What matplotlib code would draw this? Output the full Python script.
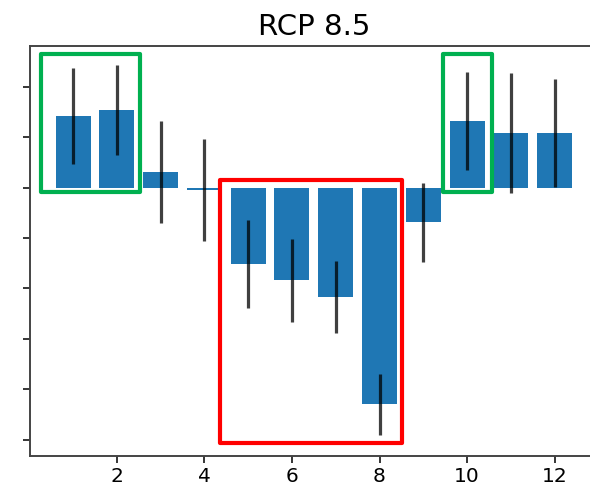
import matplotlib
matplotlib.use("Agg")
import matplotlib.pyplot as plt
from matplotlib.patches import Rectangle
import numpy as np

# monthly change (tick units) and spread
months = [1, 2, 3, 4, 5, 6, 7, 8, 9, 10, 11, 12]
change = [1.42, 1.54, 0.31, -0.04, -1.52, -1.84, -2.17, -4.30, -0.69, 1.32, 1.09, 1.09]
spread = [0.96, 0.89, 1.01, 1.01, 0.87, 0.83, 0.72, 0.61, 0.79, 0.97, 1.19, 1.07]
xticks = [2, 4, 6, 8, 10, 12]
yticks = [2, 1, 0, -1, -2, -3, -4, -5]

# highlight boxes: (x0, y0, x1, y1) in data units
green_boxes = [(0.27, -0.08, 2.52, 2.66), (9.44, -0.08, 10.58, 2.65)]
red_boxes = [(4.36, -5.07, 8.52, 0.16)]

fig = plt.figure(figsize=(5.9, 4.88), dpi=100)
ax = fig.add_axes([0.0503, 0.0662, 0.9633, 0.8395])

ax.bar(months, change, width=0.8, color="#1f77b4",
       yerr=spread, error_kw=dict(ecolor="black", elinewidth=2.3, alpha=0.75))

ax.set_xlim(0.01, 12.99)
ax.set_ylim(-5.32, 2.81)
ax.set_xticks(xticks)
ax.set_yticks(yticks)
ax.set_yticklabels([])
ax.tick_params(labelsize=14.5, length=4.8, width=1.1)
for s in ax.spines.values():
    s.set_linewidth(1.4)
    s.set_color("#444444")
# the reference is cut before the right spine
ax.spines["right"].set_visible(False)

ax.set_title("RCP 8.5", fontsize=21, pad=8)

for (x0, y0, x1, y1) in green_boxes:
    ax.add_patch(Rectangle((x0, y0), x1 - x0, y1 - y0, fill=False,
                           edgecolor="#00b050", linewidth=3, joinstyle="round",
                           clip_on=False, zorder=5))
for (x0, y0, x1, y1) in red_boxes:
    ax.add_patch(Rectangle((x0, y0), x1 - x0, y1 - y0, fill=False,
                           edgecolor="#ff0000", linewidth=3, joinstyle="round",
                           clip_on=False, zorder=5))

fig.savefig("out.png", dpi=100)
